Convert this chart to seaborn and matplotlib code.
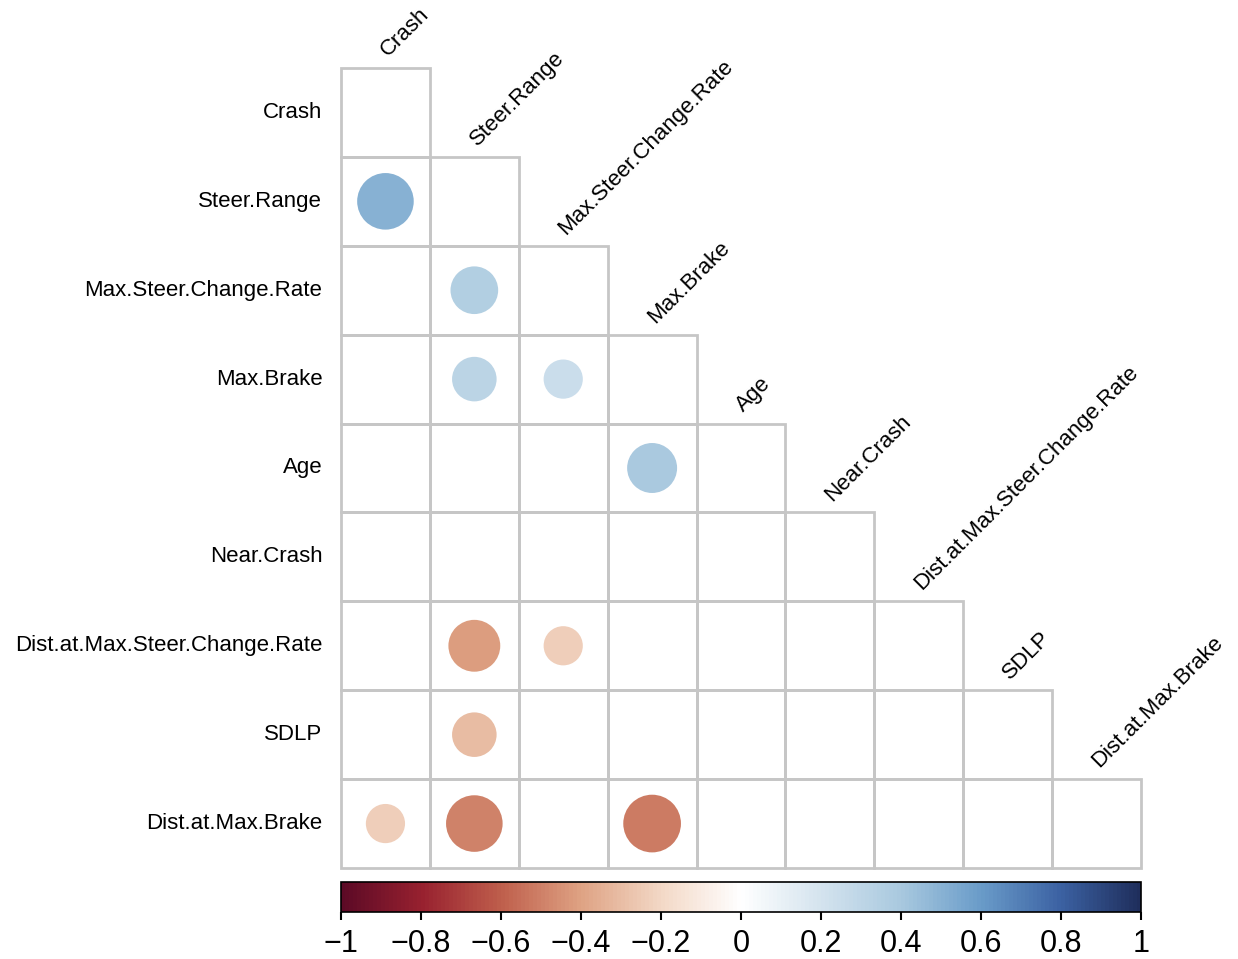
import numpy as np
import pandas as pd
import matplotlib
matplotlib.use("Agg")
import matplotlib.pyplot as plt
import seaborn as sns
from matplotlib.colors import LinearSegmentedColormap, ListedColormap, Normalize
from matplotlib.patches import Circle, Rectangle
from matplotlib.cm import ScalarMappable

# Variables of the correlation matrix (same order for rows and columns)
variables = ["Crash", "Steer.Range", "Max.Steer.Change.Rate", "Max.Brake", "Age",
             "Near.Crash", "Dist.at.Max.Steer.Change.Rate", "SDLP", "Dist.at.Max.Brake"]

# Significant lower-triangle correlations: (row variable, column variable, r)
pair_rows = ["Steer.Range", "Max.Steer.Change.Rate", "Max.Brake", "Max.Brake", "Age",
             "Dist.at.Max.Steer.Change.Rate", "Dist.at.Max.Steer.Change.Rate", "SDLP",
             "Dist.at.Max.Brake", "Dist.at.Max.Brake", "Dist.at.Max.Brake"]
pair_cols = ["Crash", "Steer.Range", "Steer.Range", "Max.Steer.Change.Rate", "Max.Brake",
             "Steer.Range", "Max.Steer.Change.Rate", "Steer.Range",
             "Crash", "Steer.Range", "Max.Brake"]
pair_r = [0.50, 0.355, 0.31, 0.24, 0.39,
          -0.42, -0.24, -0.31,
          -0.24, -0.50, -0.52]

colorbar_ticks = [-1, -0.8, -0.6, -0.4, -0.2, 0, 0.2, 0.4, 0.6, 0.8, 1]

n = len(variables)
corr = pd.DataFrame(np.nan, index=variables, columns=variables)
for rv, cv, r in zip(pair_rows, pair_cols, pair_r):
    corr.loc[rv, cv] = r

# Diverging red-white-blue palette, stops at -1, -0.8, ..., 1
palette = ["#5C0A26", "#98212F", "#BF5F4C", "#DFA384", "#F3D8C6", "#FFFFFF",
           "#D4E3EE", "#A9C9DF", "#6A9CC9", "#3C62A3", "#1F2E5C"]
cmap = LinearSegmentedColormap.from_list("corr_rdbu", palette, N=200)
norm = Normalize(-1, 1)

plt.rcParams["font.family"] = ["Liberation Sans", "DejaVu Sans"]

W, H = 1238, 959
fig = plt.figure(figsize=(W / 100, H / 100), dpi=100)
ax = fig.add_axes([341 / W, 1 - 868 / H, 800 / W, 800 / H])

# Lower triangle (with diagonal) as white cells
grid = pd.DataFrame(0.0, index=variables, columns=variables)
upper = np.triu(np.ones((n, n), dtype=bool), k=1)
sns.heatmap(grid, mask=upper, cmap=ListedColormap(["white"]), cbar=False,
            linewidths=0, xticklabels=False, yticklabels=False, ax=ax)
ax.set_xlim(0, n)
ax.set_ylim(n, 0)
for s in ax.spines.values():
    s.set_visible(False)
ax.tick_params(length=0)

# Grey cell borders for the lower triangle
for i in range(n):
    for j in range(i + 1):
        ax.add_patch(Rectangle((j, i), 1, 1, facecolor="none", edgecolor="#C6C6C6",
                               linewidth=2, zorder=2, clip_on=False))

# Circles: area proportional to |r|, colour from the diverging palette
for i, rv in enumerate(variables):
    for j, cv in enumerate(variables):
        r = corr.loc[rv, cv]
        if np.isnan(r):
            continue
        rad = 0.9 * np.sqrt(abs(r)) / 2
        ax.add_patch(Circle((j + 0.5, i + 0.5), rad, facecolor=cmap(norm(r)),
                            edgecolor="none", zorder=3))

# Row labels
for i, v in enumerate(variables):
    ax.text(-0.21, i + 0.5, v, ha="right", va="center", fontsize=16, color="black")

# Column labels along the diagonal, rotated 45 degrees
for j, v in enumerate(variables):
    ax.text(j + 0.53, j - 0.12, v, ha="left", va="baseline", rotation=45,
            rotation_mode="anchor", fontsize=16, color="black", clip_on=False)

# Colour legend
cax = fig.add_axes([341 / W, 1 - 912 / H, 800 / W, 30 / H])
sm = ScalarMappable(norm=norm, cmap=cmap)
cb = fig.colorbar(sm, cax=cax, orientation="horizontal", ticks=colorbar_ticks)
cb.outline.set_linewidth(1.2)
cb.outline.set_edgecolor("black")
cax.tick_params(axis="x", direction="out", length=6, width=1.5, labelsize=22, pad=6)


def tick_text(t):
    if t == 0:
        return "0"
    if abs(t) == 1:
        return "\u22121" if t < 0 else "1"
    return f"{t:.1f}".replace("-", "\u2212")


cax.set_xticklabels([tick_text(t) for t in colorbar_ticks])

fig.savefig("out.png", dpi=100, facecolor="white")
